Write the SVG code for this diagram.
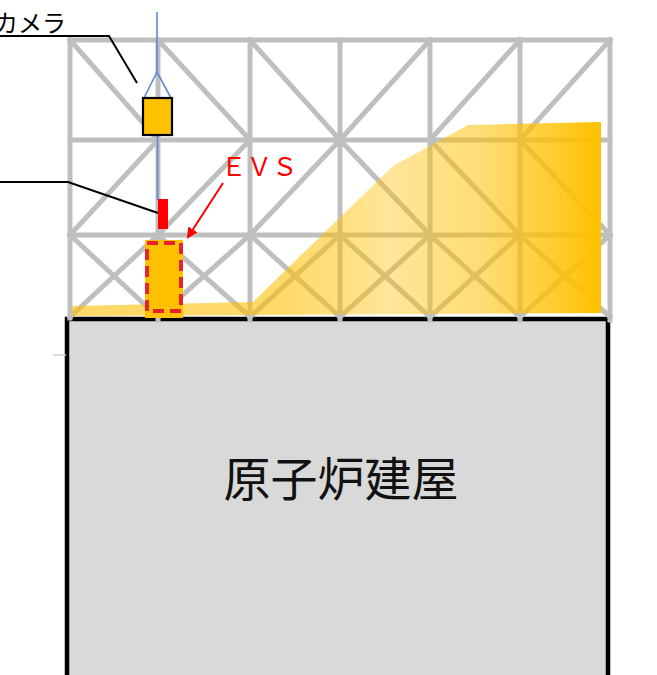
<svg xmlns="http://www.w3.org/2000/svg" width="657" height="675" viewBox="0 0 657 675">
  <defs>
    <style>
      .truss { stroke: #BFBFBF; stroke-width: 5; fill: none; stroke-linecap: square; }
      .leader { stroke: #000; stroke-width: 2; fill: none; }
      .rope { stroke: #5B8AD0; stroke-width: 1.6; fill: none; }
      .jp { font-family: "Noto Sans CJK JP", "Noto Sans", sans-serif; }
    </style>
    <linearGradient id="debrisGrad" gradientUnits="userSpaceOnUse" x1="72" y1="0" x2="602" y2="0">
      <stop offset="0" stop-color="#FFC000" stop-opacity="0.6"/>
      <stop offset="0.42" stop-color="#FFC000" stop-opacity="0.58"/>
      <stop offset="0.6" stop-color="#FFC000" stop-opacity="0.4"/>
      <stop offset="0.78" stop-color="#FFC000" stop-opacity="0.55"/>
      <stop offset="1" stop-color="#FFC000" stop-opacity="1"/>
    </linearGradient>
    <marker id="redArrow" markerWidth="11" markerHeight="11" refX="9" refY="5.5" orient="auto" markerUnits="userSpaceOnUse" viewBox="0 0 11 11">
      <path d="M0,0 L11,5.5 L0,11 z" fill="#FF0000"/>
    </marker>
  </defs>

  <!-- reactor building -->
  <g id="building">
    <rect x="67" y="319" width="541" height="380" fill="#D9D9D9" stroke="#000" stroke-width="4.5"/>
    <line x1="53" y1="355" x2="66" y2="355" stroke="#D0D0D0" stroke-width="1.5"/>
    <text class="jp" x="341" y="496" font-size="47" text-anchor="middle" fill="#111">原子炉建屋</text>
  </g>

  <!-- steel truss frame -->
  <g id="frame" class="truss">
    <!-- chords -->
    <line x1="70" y1="40" x2="610" y2="40"/>
    <line x1="70" y1="140" x2="610" y2="140"/>
    <line x1="70" y1="235" x2="610" y2="235"/>
    <!-- posts -->
    <line x1="70" y1="40" x2="70" y2="318"/>
    <line x1="158" y1="40" x2="158" y2="320"/>
    <line x1="250" y1="40" x2="250" y2="320"/>
    <line x1="340" y1="40" x2="340" y2="320"/>
    <line x1="430" y1="40" x2="430" y2="320"/>
    <line x1="520" y1="40" x2="520" y2="320"/>
    <line x1="610" y1="40" x2="610" y2="320"/>
    <!-- top bay braces -->
    <line x1="70" y1="40" x2="158" y2="140"/>
    <line x1="158" y1="40" x2="250" y2="140"/>
    <line x1="250" y1="40" x2="340" y2="140"/>
    <line x1="340" y1="140" x2="430" y2="40"/>
    <line x1="430" y1="140" x2="520" y2="40"/>
    <line x1="520" y1="140" x2="610" y2="40"/>
    <!-- middle bay braces -->
    <line x1="70" y1="235" x2="158" y2="140"/>
    <line x1="158" y1="235" x2="250" y2="140"/>
    <line x1="250" y1="235" x2="340" y2="140"/>
    <line x1="340" y1="140" x2="430" y2="235"/>
    <line x1="430" y1="140" x2="520" y2="235"/>
    <line x1="520" y1="140" x2="610" y2="235"/>
    <!-- bottom bay cross braces -->
    <line x1="70" y1="235" x2="158" y2="317"/>
    <line x1="158" y1="235" x2="70" y2="317"/>
    <line x1="158" y1="235" x2="250" y2="317"/>
    <line x1="250" y1="235" x2="158" y2="317"/>
    <line x1="250" y1="235" x2="340" y2="317"/>
    <line x1="340" y1="235" x2="250" y2="317"/>
    <line x1="340" y1="235" x2="430" y2="317"/>
    <line x1="430" y1="235" x2="340" y2="317"/>
    <line x1="430" y1="235" x2="520" y2="317"/>
    <line x1="520" y1="235" x2="430" y2="317"/>
    <line x1="520" y1="235" x2="610" y2="317"/>
    <line x1="610" y1="235" x2="520" y2="317"/>
  </g>

  <!-- rubble pile -->
  <g id="rubble">
    <polygon points="72,306 253,302 393,166 468,125 601,122 601,313 72,316" fill="url(#debrisGrad)"/>
  </g>

  <!-- connectors: rope, leaders, arrow -->
  <g id="connectors">
    <line class="rope" x1="157" y1="12" x2="157" y2="72"/>
    <polyline class="rope" points="144,98 157,72 171,98"/>
    <line class="rope" x1="157.5" y1="135" x2="157.5" y2="200"/>
    <polyline class="leader" points="0,36 109,36 137,83"/>
    <polyline class="leader" points="0,182 68,182 158,213"/>
    <line x1="223" y1="183" x2="188" y2="237" stroke="#FF0000" stroke-width="2" marker-end="url(#redArrow)"/>
  </g>

  <!-- camera -->
  <g id="camera">
    <rect x="143" y="98" width="29" height="37" fill="#FFC000" stroke="#000" stroke-width="2.2"/>
    <text class="jp" x="-6" y="32" font-size="24" fill="#000">カメラ</text>
  </g>

  <!-- sensor head on rope -->
  <g id="sensor">
    <rect x="158" y="199" width="10" height="30" fill="#FF0000"/>
  </g>

  <!-- EVS unit -->
  <g id="evs">
    <rect x="145" y="240" width="38" height="78" fill="#FFC000"/>
    <rect x="147" y="243" width="34" height="68" fill="none" stroke="#E8242A" stroke-width="4" stroke-dasharray="11,6"/>
    <text class="jp" x="221" y="176" font-size="25.5" fill="#FF0000">ＥＶＳ</text>
  </g>
</svg>
